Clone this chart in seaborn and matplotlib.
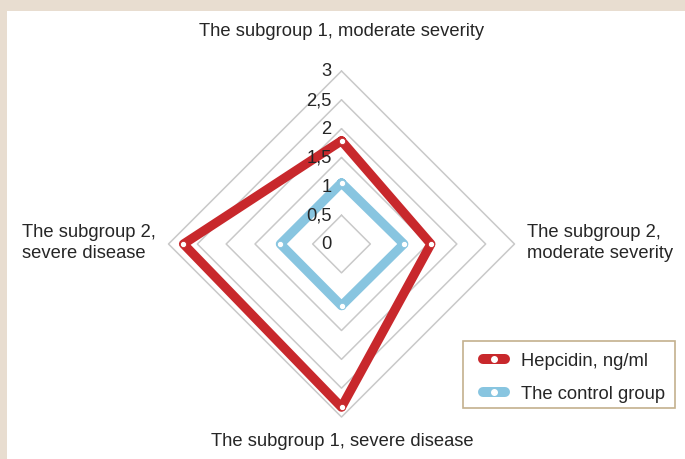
import numpy as np
import pandas as pd
import matplotlib
matplotlib.use("Agg")
import matplotlib.pyplot as plt
from matplotlib.patches import Rectangle
from matplotlib.lines import Line2D
import seaborn as sns

# ---- data ----
categories = [
    "The subgroup 1, moderate severity",
    "The subgroup 2,\nmoderate severity",
    "The subgroup 1, severe disease",
    "The subgroup 2,\nsevere disease",
]
series_names = ["Hepcidin, ng/ml", "The control group"]
hepcidin = [1.79, 1.55, 2.83, 2.74]
control = [1.06, 1.08, 1.07, 1.06]
tick_values = [0, 0.5, 1, 1.5, 2, 2.5, 3]
tick_labels = ["0", "0,5", "1", "1,5", "2", "2,5", "3"]

colors = {"Hepcidin, ng/ml": "#c8282c", "The control group": "#88c5e0"}

sns.set_theme(style="white")
plt.rcParams["font.family"] = ["Liberation Sans", "DejaVu Sans"]

W, H = 685, 460
fig = plt.figure(figsize=(W / 100, H / 100), dpi=100)
fig.patch.set_facecolor("#e8ddd0")
fig.add_artist(Rectangle((7 / W, 0), 1 - 7 / W, (H - 12) / H,
                         transform=fig.transFigure, facecolor="white",
                         edgecolor="none", zorder=-1))

ax = fig.add_axes([0, 0, 1, 1])
ax.set_facecolor("none")
cx, cy, scale = 341.5, 245.0, 173.0 / 3

n = len(categories)
angles = np.arange(n) * 2 * np.pi / n  # clockwise from top


def to_xy(vals):
    v = np.asarray(vals, dtype=float)
    return v * np.sin(angles), v * np.cos(angles)


# grid rings
for t in tick_values[1:]:
    gx, gy = to_xy([t] * n)
    ax.plot(np.r_[gx, gx[0]], np.r_[gy, gy[0]], color="#c9c9c9", lw=1.1, zorder=1)

FS = 13.2
# tick labels
for t, lab in zip(tick_values, tick_labels):
    ax.text(-0.17, t, lab, ha="right", va="center", fontsize=FS,
            color="#262626", zorder=5)

# data (closed polygons)
rows = []
for name, vals in zip(series_names, [hepcidin, control]):
    x, y = to_xy(vals)
    for i in list(range(n)) + [0]:
        rows.append({"series": name, "x": x[i], "y": y[i]})
df = pd.DataFrame(rows)

sns.lineplot(data=df, x="x", y="y", hue="series", palette=colors,
             sort=False, estimator=None, lw=6.6, marker="o", ms=4.5,
             mfc="white", ax=ax, legend=False, zorder=3)
for line in ax.lines[-2:]:
    line.set_markeredgecolor(line.get_color())
    line.set_markeredgewidth(0.6)
    line.set_solid_joinstyle("round")

ax.set_xlim(-cx / scale, (W - cx) / scale)
ax.set_ylim(-(H - cy) / scale, cy / scale)
ax.set_axis_off()


def px(xp, yp):
    return (xp - cx) / scale, (cy - yp) / scale


lab_kw = dict(fontsize=FS, color="#262626")
ax.text(*px(342, 32), categories[0], ha="center", va="center", **lab_kw)
ax.text(*px(527, 243), categories[1], ha="left", va="center", linespacing=1.32, **lab_kw)
ax.text(*px(342, 442), categories[2], ha="center", va="center", **lab_kw)
ax.text(*px(22, 243), categories[3], ha="left", va="center", linespacing=1.32, **lab_kw)

# legend frame
fig.add_artist(Rectangle((463 / W, 1 - 409 / H), 212 / W, 67 / H,
                         transform=fig.transFigure, facecolor="white",
                         edgecolor="#c4b08e", lw=1.2, zorder=4))
handles = [Line2D([0], [0], color=colors[s], lw=7.2, solid_capstyle="round",
                  marker="o", ms=4, mfc="white", mec="white")
           for s in series_names]
leg = fig.legend(handles, series_names, loc="upper left",
                 bbox_to_anchor=(483 / W, 1 - 353.5 / H), bbox_transform=fig.transFigure,
                 frameon=False, fontsize=FS, handlelength=1.2,
                 handletextpad=0.85, borderpad=0, labelspacing=0.86,
                 borderaxespad=0)
leg.set_zorder(6)
for t in leg.get_texts():
    t.set_color("#262626")

fig.savefig("out.png", dpi=100)
